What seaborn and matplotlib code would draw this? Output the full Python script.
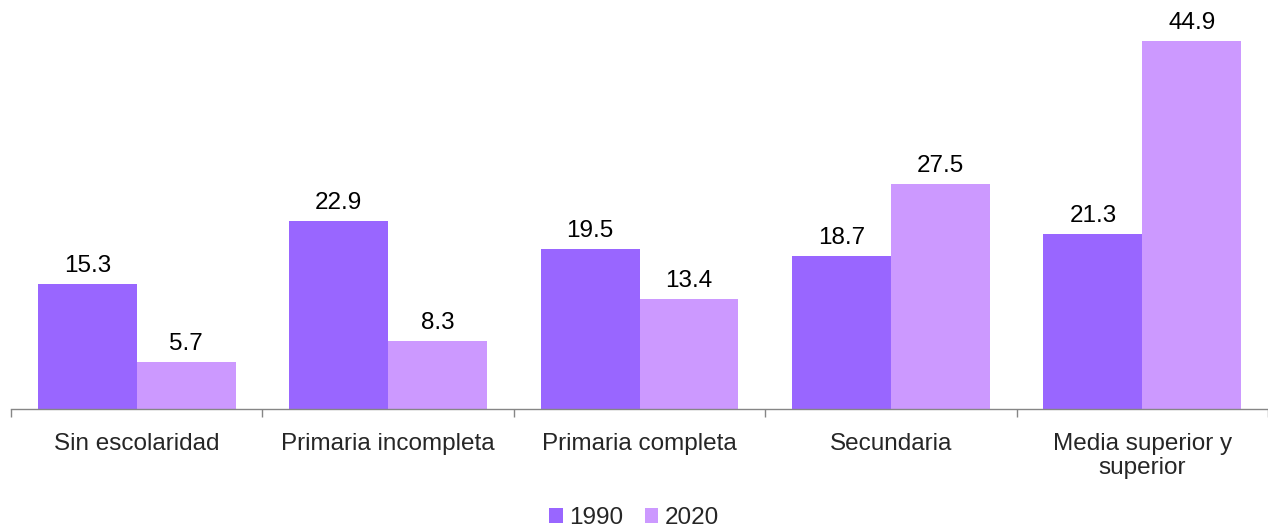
import matplotlib
matplotlib.use("Agg")
import matplotlib.pyplot as plt
import seaborn as sns
import pandas as pd
import numpy as np

categories = ["Sin escolaridad", "Primaria incompleta", "Primaria completa",
              "Secundaria", "Media superior y\nsuperior"]
values_1990 = [15.3, 22.9, 19.5, 18.7, 21.3]
values_2020 = [5.7, 8.3, 13.4, 27.5, 44.9]
years = ["1990", "2020"]

df = pd.DataFrame({
    "cat": categories * 2,
    "year": [years[0]] * 5 + [years[1]] * 5,
    "val": values_1990 + values_2020,
})

sns.set_style("white")
plt.rcParams["font.family"] = ["Liberation Sans", "DejaVu Sans"]

FS = 17.5
fig = plt.figure(figsize=(12.68, 5.29), dpi=100)
ax = fig.add_axes([11 / 1268, 1 - 409 / 529, 1 - 11 / 1268, 409 / 529])

sns.barplot(data=df, x="cat", y="val", hue="year", order=categories,
            palette=["#9966FF", "#CC99FF"], width=0.786, gap=0,
            saturation=1, ax=ax, legend=True, linewidth=0, edgecolor="none")

for cont in ax.containers:
    ax.bar_label(cont, fmt="%.1f", padding=5, fontsize=FS, color="#000000")

ax.set_ylim(0, 49.9)
ax.set_xlim(-0.5, 4.5)
ax.set_xlabel("")
ax.set_ylabel("")
ax.set_yticks([])
for s in ["top", "right", "left"]:
    ax.spines[s].set_visible(False)
ax.spines["bottom"].set_color("#868686")
ax.spines["bottom"].set_linewidth(1)

ax.set_xticks(range(5))
ax.set_xticklabels(categories, fontsize=FS, linespacing=1.15)
ax.tick_params(axis="x", which="major", length=0, pad=17)
ax.set_xticks(np.arange(-0.5, 5, 1), minor=True)
ax.tick_params(axis="x", which="minor", length=6, color="#868686", width=1,
               bottom=True)

handles, labels = ax.get_legend_handles_labels()
ax.get_legend().remove()
fig.legend(handles, labels, loc="center", bbox_to_anchor=(0.5, 1 - 518 / 529),
           ncol=2, frameon=False, fontsize=FS, handlelength=0.55,
           handleheight=0.55, handletextpad=0.25, columnspacing=0.9,
           borderpad=0)

fig.savefig("out.png", dpi=100)
